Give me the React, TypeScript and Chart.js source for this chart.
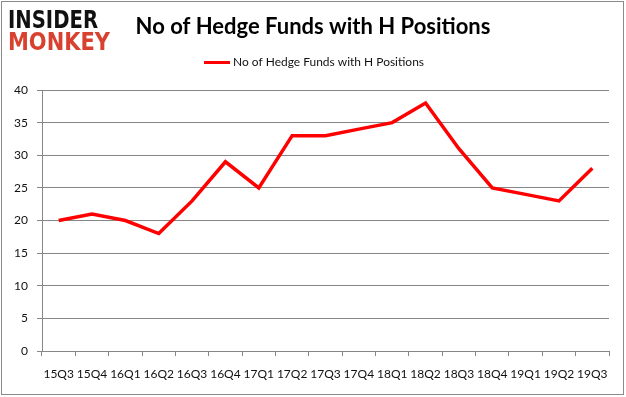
import React, { useEffect, useRef } from "react";
import { Chart, registerables } from "chart.js";

Chart.register(...registerables);

const categories = ["15Q3", "15Q4", "16Q1", "16Q2", "16Q3", "16Q4", "17Q1", "17Q2", "17Q3", "17Q4", "18Q1", "18Q2", "18Q3", "18Q4", "19Q1", "19Q2", "19Q3"];
const hedgeFunds = [20, 21, 20, 18, 23, 29, 25, 33, 33, 34, 35, 38, 31, 25, 24, 23, 28];
const seriesLabel = "No of Hedge Funds with H Positions";
const chartTitle = "No of Hedge Funds with H Positions";

const FONT = "Lato, 'Open Sans', sans-serif";
const GRID = "#868686";

const decorPlugin = {
  id: "decor",
  beforeDraw(chart: any) {
    const ctx = chart.ctx;
    ctx.save();
    ctx.fillStyle = "#ffffff";
    ctx.fillRect(0, 0, chart.width, chart.height);
    ctx.restore();
  },
  afterDraw(chart: any) {
    const ctx = chart.ctx;
    ctx.save();
    // frame
    ctx.strokeStyle = "#8a8a8a";
    ctx.lineWidth = 1;
    ctx.strokeRect(1.5, 1.5, 622, 393);
    // logo
    ctx.textBaseline = "alphabetic";
    ctx.textAlign = "left";
    ctx.font = "900 25px 'DejaVu Sans', sans-serif";
    ctx.fillStyle = "#111111";
    ctx.fillText("INSIDER", 8, 28, 90);
    ctx.fillStyle = "#d8412f";
    ctx.fillText("MONKEY", 8, 50, 102);
    // title
    ctx.fillStyle = "#000000";
    ctx.textAlign = "center";
    ctx.textBaseline = "middle";
    ctx.font = "bold 22px " + FONT;
    ctx.fillText(chartTitle, 313, 27, 356);
    // legend
    ctx.strokeStyle = "#ff0000";
    ctx.lineWidth = 3;
    ctx.beginPath();
    ctx.moveTo(204, 62.5);
    ctx.lineTo(230, 62.5);
    ctx.stroke();
    ctx.fillStyle = "#111111";
    ctx.textAlign = "left";
    ctx.font = "12px " + FONT;
    ctx.fillText(seriesLabel, 233, 62.5, 191);
    ctx.restore();
  },
};

export default function App() {
  const ref = useRef<HTMLCanvasElement | null>(null);
  useEffect(() => {
    document.body.style.margin = "0";
    const canvas = ref.current;
    if (!canvas) return;
    const chart = new Chart(canvas, {
      type: "line",
      data: {
        labels: categories,
        datasets: [
          {
            label: seriesLabel,
            data: hedgeFunds,
            borderColor: "#ff0000",
            backgroundColor: "#ff0000",
            borderWidth: 3.5,
            pointRadius: 0,
            tension: 0,
            fill: false,
          },
        ],
      },
      options: {
        responsive: false,
        animation: false,
        layout: { padding: { top: 90, right: 17, bottom: 0, left: 0 } },
        plugins: {
          legend: { display: false },
          title: { display: false },
          tooltip: { enabled: false },
        },
        scales: {
          x: {
            type: "category",
            offset: true,
            grid: { offset: true, drawOnChartArea: false, drawTicks: true, tickLength: 5, color: GRID },
            border: { display: true, color: GRID },
            ticks: { color: "#111111", font: { family: FONT, size: 12 }, padding: 11, maxRotation: 0, autoSkip: false },
            afterFit(scale: any) {
              scale.height = 46;
            },
          },
          y: {
            min: 0,
            max: 40,
            ticks: { stepSize: 5, color: "#111111", font: { family: FONT, size: 12 }, padding: 9 },
            grid: { color: GRID, tickLength: 5, drawTicks: true },
            border: { display: true, color: GRID },
            afterFit(scale: any) {
              scale.width = 42;
            },
          },
        },
      },
      plugins: [decorPlugin],
    });
    return () => chart.destroy();
  }, []);
  return (
    <div style={{ position: "absolute", left: 0, top: 0, width: 626, height: 397 }}>
      <canvas ref={ref} width={626} height={397} style={{ width: 626, height: 397, display: "block" }} />
    </div>
  );
}
